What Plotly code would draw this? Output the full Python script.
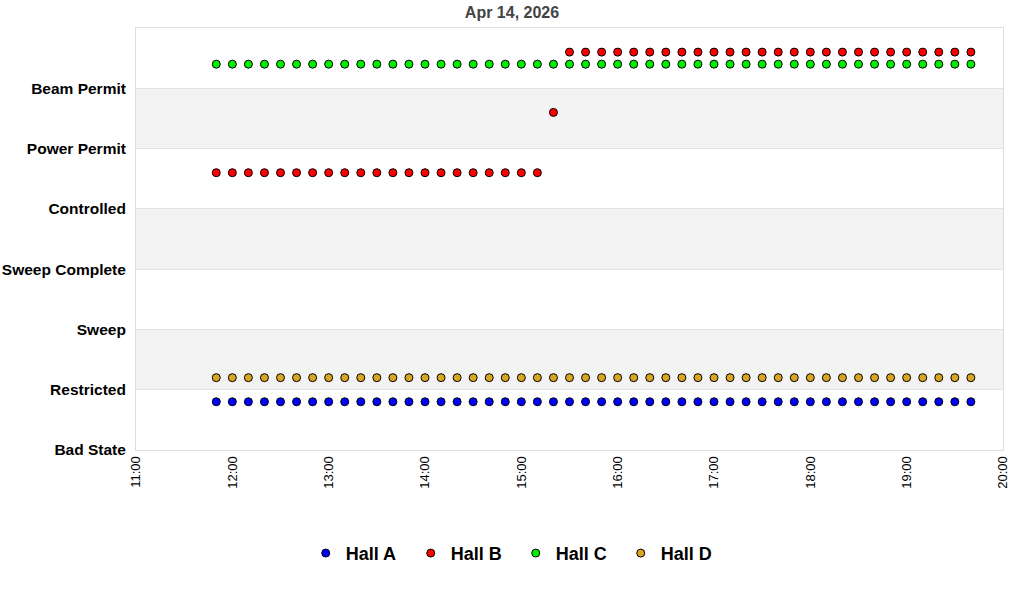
import plotly.graph_objects as go

# hall status samples, every 10 minutes on Apr 14, 2026
times = [
    "2026-04-14 11:50", "2026-04-14 12:00", "2026-04-14 12:10", "2026-04-14 12:20",
    "2026-04-14 12:30", "2026-04-14 12:40", "2026-04-14 12:50", "2026-04-14 13:00",
    "2026-04-14 13:10", "2026-04-14 13:20", "2026-04-14 13:30", "2026-04-14 13:40",
    "2026-04-14 13:50", "2026-04-14 14:00", "2026-04-14 14:10", "2026-04-14 14:20",
    "2026-04-14 14:30", "2026-04-14 14:40", "2026-04-14 14:50", "2026-04-14 15:00",
    "2026-04-14 15:10", "2026-04-14 15:20", "2026-04-14 15:30", "2026-04-14 15:40",
    "2026-04-14 15:50", "2026-04-14 16:00", "2026-04-14 16:10", "2026-04-14 16:20",
    "2026-04-14 16:30", "2026-04-14 16:40", "2026-04-14 16:50", "2026-04-14 17:00",
    "2026-04-14 17:10", "2026-04-14 17:20", "2026-04-14 17:30", "2026-04-14 17:40",
    "2026-04-14 17:50", "2026-04-14 18:00", "2026-04-14 18:10", "2026-04-14 18:20",
    "2026-04-14 18:30", "2026-04-14 18:40", "2026-04-14 18:50", "2026-04-14 19:00",
    "2026-04-14 19:10", "2026-04-14 19:20", "2026-04-14 19:30", "2026-04-14 19:40",
]

states = ["Bad State", "Restricted", "Sweep", "Sweep Complete",
          "Controlled", "Power Permit", "Beam Permit"]

hall_a = ["Bad State"] * 48
hall_b = ["Controlled"] * 21 + ["Power Permit"] + ["Beam Permit"] * 26
hall_c = ["Beam Permit"] * 48
hall_d = ["Restricted"] * 48

halls = ["Hall A", "Hall B", "Hall C", "Hall D"]
colors = ["#0000ff", "#ff0000", "#00ee00", "#daa520"]
offsets = [0.8, 0.6, 0.4, 0.2]  # so the halls don't sit on top of each other

fig = go.Figure()
for name, vals, col, off in zip(halls, [hall_a, hall_b, hall_c, hall_d], colors, offsets):
    fig.add_trace(go.Scatter(
        x=times, y=[states.index(v) + off for v in vals],
        mode="markers", name=f"<b>{name}</b>",
        marker=dict(color=col, size=8, line=dict(color="black", width=1)),
    ))

# alternating grey bands
for lo in [1, 3, 5]:
    fig.add_shape(type="rect", xref="paper", yref="y", x0=0, x1=1, y0=lo, y1=lo + 1,
                  fillcolor="#f3f3f3", line_width=0, layer="below")

fig.update_layout(
    width=1024, height=600,
    margin=dict(l=136, r=21, t=28, b=150),
    paper_bgcolor="white", plot_bgcolor="white",
    font=dict(family="Liberation Sans, Arial, sans-serif", color="black"),
    title=dict(text="<b>Apr 14, 2026</b>", x=0.5, xanchor="center", y=0.98, yanchor="middle",
               font=dict(size=16, color="#444444")),
    showlegend=True,
    legend=dict(orientation="h", x=0.438, xanchor="center", y=-0.245, yanchor="middle",
                font=dict(size=18), entrywidth=60, entrywidthmode="pixels"),
    xaxis=dict(
        type="date", range=["2026-04-14 11:00", "2026-04-14 20:00"],
        dtick=3600000, tickformat="%H:%M", tickangle=-90,
        showgrid=False, zeroline=False, showline=True, linecolor="#dddddd", mirror=True,
        ticks="", tickfont=dict(size=13), automargin=False,
    ),
    yaxis=dict(
        range=[0, 7], tickvals=list(range(len(states))), ticktext=[f"<b>{s}</b>" for s in states],
        showgrid=True, gridcolor="#e2e2e2", zeroline=False,
        showline=True, linecolor="#dddddd", mirror=True, ticks="",
        tickfont=dict(size=15.5), ticklabelstandoff=6, automargin=False,
    ),
)

# drop the default page margin so the figure fills the window
fig.write_html("out.html", config={"displayModeBar": False},
               post_script="document.body.style.margin='0';")
